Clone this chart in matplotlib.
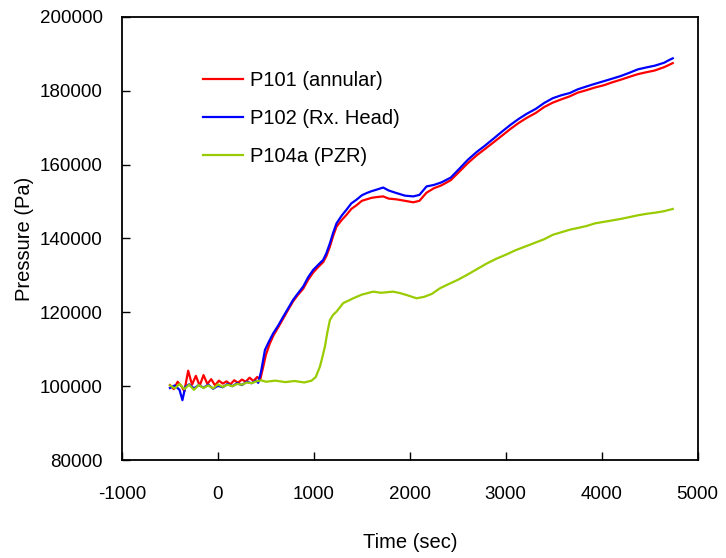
#!/usr/bin/env python3
"""Pressure transients P101 / P102 / P104a vs time."""

import matplotlib; matplotlib.use("Agg")
import matplotlib.pyplot as plt

plt.rcParams["font.family"] = ["Liberation Sans", "DejaVu Sans"]
plt.rcParams["axes.unicode_minus"] = False

# P102 (Rx. Head)
t_p102 = [-500, -450, -400, -370, -340, -300, -250, -200, -150, -100, -50, 0,
          50, 100, 150, 200, 250, 300, 350, 400, 420, 450, 490, 530, 576, 630,
          680, 730, 784, 830, 889, 940, 993, 1050, 1097, 1130, 1167, 1200, 1236,
          1290, 1340, 1390, 1444, 1500, 1549, 1600, 1650, 1722, 1780, 1861, 1950,
          2035, 2100, 2174, 2250, 2330, 2427, 2520, 2604, 2700, 2781, 2870, 2958,
          3050, 3135, 3220, 3312, 3400, 3490, 3580, 3667, 3750, 3844, 3930, 4021,
          4110, 4198, 4290, 4375, 4460, 4552, 4650, 4700, 4740]
p_p102 = [99500, 100200, 99000, 96200, 99800, 100500, 99400, 100300, 99600, 100400,
          99300, 100100, 99700, 100600, 100000, 100800, 100300, 101200, 100800,
          101500, 100900, 104000, 109800, 112000, 114300, 116500, 118800, 121000,
          123400, 125000, 127000, 129500, 131500, 133000, 134200, 136000, 138700,
          141500, 144100, 146200, 147800, 149500, 150500, 151700, 152300, 152800,
          153200, 153800, 153000, 152300, 151600, 151400, 151800, 154100, 154500,
          155200, 156500, 159000, 161300, 163500, 165100, 167000, 168900, 170800,
          172400, 173800, 175100, 176700, 178000, 178800, 179400, 180400, 181200,
          181900, 182600, 183300, 184000, 184900, 185800, 186300, 186800, 187600,
          188300, 188800]

# P101 (annular)
t_p101 = [-500, -460, -420, -380, -350, -310, -270, -230, -190, -150, -110, -70,
          -30, 10, 50, 90, 130, 170, 210, 250, 290, 330, 370, 410, 440, 470, 500,
          540, 580, 630, 680, 730, 784, 830, 889, 940, 993, 1050, 1097, 1130, 1167,
          1200, 1236, 1290, 1340, 1390, 1444, 1500, 1549, 1600, 1650, 1722, 1780,
          1861, 1950, 2035, 2100, 2174, 2250, 2330, 2427, 2520, 2604, 2700, 2781,
          2870, 2958, 3050, 3135, 3220, 3312, 3400, 3490, 3580, 3667, 3750, 3844,
          3930, 4021, 4110, 4198, 4290, 4375, 4460, 4552, 4650, 4700, 4740]
p_p101 = [100300, 99200, 101200, 100000, 98600, 104200, 100400, 102800, 100100,
          103000, 100600, 101900, 100200, 101500, 100700, 101300, 100500, 101600,
          100900, 101800, 101200, 102300, 101400, 102500, 101700, 105000, 108500,
          111500, 113800, 116000, 118300, 120600, 123000, 124600, 126400, 128800,
          130800, 132400, 133600, 135200, 137800, 140600, 143200, 145000, 146400,
          148000, 149000, 150200, 150600, 151000, 151200, 151400, 150800, 150600,
          150200, 149800, 150200, 152400, 153600, 154400, 155800, 158200, 160400,
          162600, 164200, 166000, 167800, 169700, 171300, 172700, 174000, 175600,
          176800, 177700, 178500, 179500, 180200, 180900, 181500, 182300, 183000,
          183800, 184500, 185000, 185500, 186400, 187000, 187500]

# P104a (PZR)
t_p104a = [-500, -450, -400, -350, -300, -250, -200, -150, -100, -50, 0, 50, 100,
           150, 200, 250, 300, 350, 400, 450, 500, 600, 700, 800, 900, 976, 1020,
           1063, 1090, 1115, 1140, 1167, 1200, 1236, 1306, 1410, 1500, 1618, 1700,
           1826, 1900, 1965, 2070, 2150, 2230, 2313, 2400, 2500, 2600, 2700, 2800,
           2900, 3000, 3100, 3200, 3300, 3400, 3490, 3580, 3670, 3760, 3844, 3930,
           4020, 4110, 4198, 4290, 4380, 4470, 4560, 4650, 4740]
p_p104a = [100200, 99400, 100600, 99200, 100400, 99000, 100300, 99500, 100200,
           99400, 100500, 99800, 100400, 100000, 100600, 100400, 101000, 100800,
           101300, 101600, 101200, 101500, 101100, 101400, 101000, 101500, 102500,
           105300, 108000, 110700, 114500, 117900, 119300, 120200, 122500, 123800,
           124800, 125600, 125300, 125600, 125200, 124700, 123800, 124200, 125000,
           126500, 127600, 128800, 130200, 131700, 133200, 134500, 135600, 136800,
           137800, 138800, 139800, 141000, 141700, 142400, 142900, 143400, 144100,
           144500, 144900, 145300, 145800, 146300, 146700, 147000, 147400, 148000]

x_ticks = [-1000, 0, 1000, 2000, 3000, 4000, 5000]
y_ticks = [80000, 100000, 120000, 140000, 160000, 180000, 200000]


def main():
    fig = plt.figure(figsize=(7.26, 5.58), dpi=100)
    ax = fig.add_axes([0.168, 0.1756, 0.793, 0.794])

    ax.plot(t_p101, p_p101, color="#ff0000", lw=1.6, label="P101 (annular)")
    ax.plot(t_p102, p_p102, color="#0000ff", lw=1.6, label="P102 (Rx. Head)")
    ax.plot(t_p104a, p_p104a, color="#99cc00", lw=1.6, label="P104a (PZR)")

    ax.set_xlim(-1000, 5000)
    ax.set_ylim(80000, 200000)
    ax.set_xticks(x_ticks)
    ax.set_yticks(y_ticks)
    ax.tick_params(direction="in", length=6, width=1, labelsize=13.5,
                   colors="black")
    ax.tick_params(axis="x", pad=19)
    ax.tick_params(axis="y", pad=14)
    for s in ax.spines.values():
        s.set_linewidth(1.3)
        s.set_color("black")

    ax.set_xlabel("Time (sec)", fontsize=14.5)
    ax.set_ylabel("Pressure (Pa)", fontsize=14.5)
    ax.xaxis.set_label_coords(0.5, -0.165)
    ax.yaxis.set_label_coords(-0.152, 0.5)

    ax.legend(loc="upper left", bbox_to_anchor=(0.141, 0.879), frameon=False,
              fontsize=14.5, handlelength=2.0, handletextpad=0.35,
              labelspacing=0.95, borderpad=0, borderaxespad=0)

    fig.savefig("out.png", dpi=100)
    plt.close(fig)


if __name__ == "__main__":
    main()
